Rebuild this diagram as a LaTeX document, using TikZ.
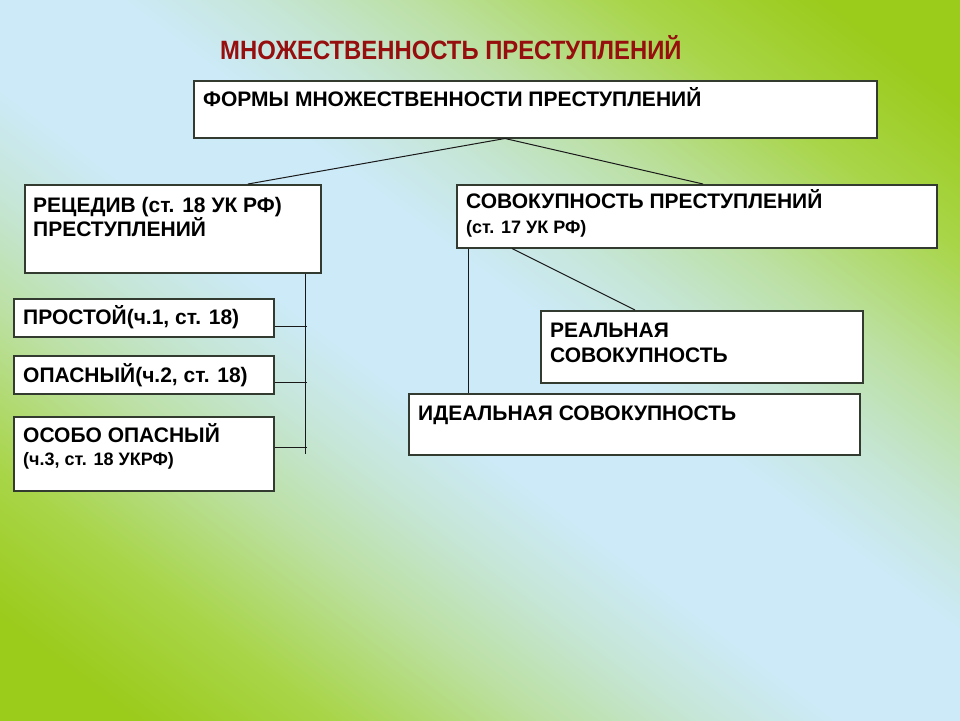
\documentclass[tikz,border=0pt]{standalone}
\usepackage{fontspec}
\setmainfont{Liberation Sans}
\newfontfamily\titlefont[FakeStretch=0.9]{Liberation Sans}
\usetikzlibrary{calc}
\definecolor{bgG}{HTML}{9BCB1B}
\definecolor{bgM}{HTML}{A8D548}
\definecolor{bgL}{HTML}{BCE0A4}
\definecolor{bgC}{HTML}{C6E6D8}
\definecolor{bgB}{HTML}{CCEAF8}
\definecolor{titlered}{HTML}{960E0E}
\definecolor{boxline}{HTML}{333A30}
\pgfdeclarehorizontalshading{bgshade}{100bp}{color(0bp)=(bgG); color(8bp)=(bgG); color(18bp)=(bgM); color(29bp)=(bgL); color(37bp)=(bgC); color(44bp)=(bgB); color(56bp)=(bgB); color(63bp)=(bgC); color(71bp)=(bgL); color(82bp)=(bgM); color(92bp)=(bgG); color(100bp)=(bgG)}
\begin{document}
\begin{tikzpicture}[x=1pt,y=-1pt,
  box/.style={draw=boxline, fill=white, line width=1.5pt, inner sep=0pt, anchor=north west},
  conn/.style={draw=black!90, line width=1pt},
  txt/.style={anchor=base west, inner sep=0pt, font=\fontsize{21}{25}\selectfont\bfseries},
  stxt/.style={anchor=base west, inner sep=0pt, font=\fontsize{18}{21}\selectfont\bfseries},
  ttxt/.style={anchor=base west, inner sep=0pt, text=titlered, font=\titlefont\fontsize{26.5}{30}\selectfont\bfseries}]
\useasboundingbox (0,0) rectangle (960,720);
% background
\begin{scope}
\clip (0,0) rectangle (960,720);
\begin{scope}[shift={(480,360)}, xscale=13.8, yscale=10.4, rotate=45]
\node[inner sep=0pt, transform shape] (bg) at (0,0) {\pgfuseshading{bgshade}};
\end{scope}
\end{scope}
% title
\node[ttxt] (title) at (220,59) {МНОЖЕСТВЕННОСТЬ ПРЕСТУПЛЕНИЙ};
% boxes
\node[box, minimum width=683pt, minimum height=57pt] (top) at (193,80) {};
\node[box, minimum width=296pt, minimum height=88pt] (rec) at (24,184) {};
\node[box, minimum width=260pt, minimum height=38pt] (p1) at (13,298) {};
\node[box, minimum width=260pt, minimum height=38pt] (p2) at (13,355) {};
\node[box, minimum width=260pt, minimum height=74pt] (p3) at (13,416) {};
\node[box, minimum width=480pt, minimum height=63pt] (sov) at (456,184) {};
\node[box, minimum width=322pt, minimum height=72pt] (real) at (540,310) {};
\node[box, minimum width=451pt, minimum height=61pt] (ideal) at (408,393) {};
% texts
\node[txt] (ttop) at (203,106) {ФОРМЫ МНОЖЕСТВЕННОСТИ ПРЕСТУПЛЕНИЙ};
\node[txt] (trec1) at (33,212) {РЕЦЕДИВ (ст. 18 УК РФ)};
\node[txt] (trec2) at (33,236) {ПРЕСТУПЛЕНИЙ};
\node[txt] (tp1) at (23,324) {ПРОСТОЙ(ч.1, ст. 18)};
\node[txt] (tp2) at (23,382) {ОПАСНЫЙ(ч.2, ст. 18)};
\node[txt] (tp3a) at (23,442) {ОСОБО ОПАСНЫЙ};
\node[stxt] (tp3b) at (23,465) {(ч.3, ст. 18 УКРФ)};
\node[txt] (tsov1) at (466,208) {СОВОКУПНОСТЬ ПРЕСТУПЛЕНИЙ};
\node[stxt] (tsov2) at (466,233) {(ст. 17 УК РФ)};
\node[txt] (treal1) at (550,337) {РЕАЛЬНАЯ};
\node[txt] (treal2) at (550,362) {СОВОКУПНОСТЬ};
\node[txt] (tideal) at (418,420) {ИДЕАЛЬНАЯ СОВОКУПНОСТЬ};
% connectors
\coordinate (apex) at ([xshift=312pt]top.south west);
\draw[conn] (apex) -- ([xshift=224pt]rec.north west);
\draw[conn] (apex) -- ([xshift=247pt]sov.north west);
\coordinate (rv) at ([xshift=281pt]rec.south west);
\coordinate (rvend) at ([xshift=281pt,yshift=-180pt]rec.south west);
\draw[conn] (rv) -- (rvend);
\draw[conn] ([yshift=-9pt]p1.east) -- +(32,0);
\draw[conn] ([yshift=-8pt]p2.east) -- +(32,0);
\draw[conn] ([yshift=6pt]p3.east) -- +(32,0);
\draw[conn] ([xshift=12pt]sov.south west) -- ([xshift=60pt]ideal.north west);
\draw[conn] ([xshift=56pt]sov.south west) -- ([xshift=95pt]real.north west);
\end{tikzpicture}
\end{document}
